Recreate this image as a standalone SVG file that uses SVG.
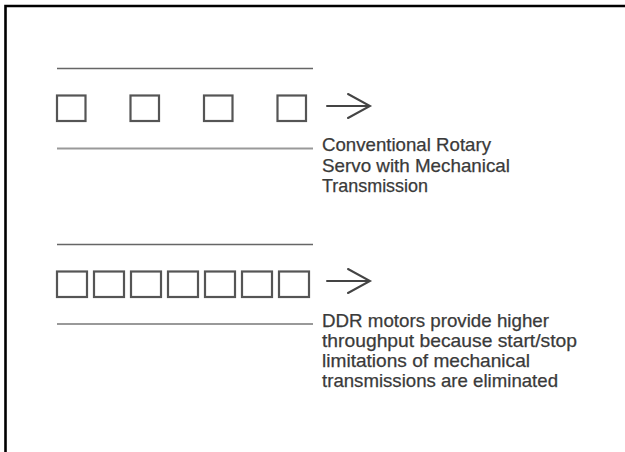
<svg xmlns="http://www.w3.org/2000/svg" width="625" height="452" viewBox="0 0 625 452">
<style>
.sq{fill:none;stroke:#555;stroke-width:2.2}
.top{stroke:#666;stroke-width:1.3}
.bot{stroke:#999;stroke-width:2.2}
.arr{fill:none;stroke:#444;stroke-width:2;stroke-linecap:round;stroke-linejoin:miter}
.lbl{font-family:"Liberation Sans",Arial,sans-serif;font-size:18.5px;fill:#3a3a3a;stroke:#3a3a3a;stroke-width:0.25}
</style>
<rect width="625" height="452" fill="#fff"/>
<path d="M5.5 452 V6 H625" fill="none" stroke="#000" stroke-width="2.6"/>
<g id="conventional">
<line class="top" x1="57" y1="68.5" x2="313" y2="68.5"/>
<rect class="sq" x="57" y="95.5" width="28.5" height="25.5"/>
<rect class="sq" x="130.5" y="95.5" width="28.5" height="25.5"/>
<rect class="sq" x="204" y="95.5" width="28.5" height="25.5"/>
<rect class="sq" x="277.5" y="95.5" width="28.5" height="25.5"/>
<line class="bot" x1="57" y1="148.5" x2="313" y2="148.5"/>
<text class="lbl" lengthAdjust="spacingAndGlyphs" x="322" y="151" textLength="169">Conventional Rotary</text>
<text class="lbl" lengthAdjust="spacingAndGlyphs" x="322" y="171.5" textLength="188">Servo with Mechanical</text>
<text class="lbl" lengthAdjust="spacingAndGlyphs" x="322" y="192" textLength="106">Transmission</text>
</g>
<g id="ddr">
<line class="top" x1="57" y1="244.5" x2="313" y2="244.5"/>
<rect class="sq" x="57" y="271.5" width="30" height="25.5"/>
<rect class="sq" x="94" y="271.5" width="30" height="25.5"/>
<rect class="sq" x="131" y="271.5" width="30" height="25.5"/>
<rect class="sq" x="168" y="271.5" width="30" height="25.5"/>
<rect class="sq" x="205" y="271.5" width="30" height="25.5"/>
<rect class="sq" x="242" y="271.5" width="30" height="25.5"/>
<rect class="sq" x="279" y="271.5" width="30" height="25.5"/>
<line class="bot" x1="57" y1="324" x2="313" y2="324"/>
<text class="lbl" lengthAdjust="spacingAndGlyphs" x="322" y="327" textLength="227">DDR motors provide higher</text>
<text class="lbl" lengthAdjust="spacingAndGlyphs" x="322" y="347" textLength="255">throughput because start/stop</text>
<text class="lbl" lengthAdjust="spacingAndGlyphs" x="322" y="367" textLength="208">limitations of mechanical</text>
<text class="lbl" lengthAdjust="spacingAndGlyphs" x="322" y="387" textLength="236">transmissions are eliminated</text>
</g>
<g id="connectors">
<path class="arr" d="M327 106 H369 M348 94 L370 106 L348 118"/>
<path class="arr" d="M327 281 H369 M348 269 L370 281 L348 293"/>
</g>
</svg>
